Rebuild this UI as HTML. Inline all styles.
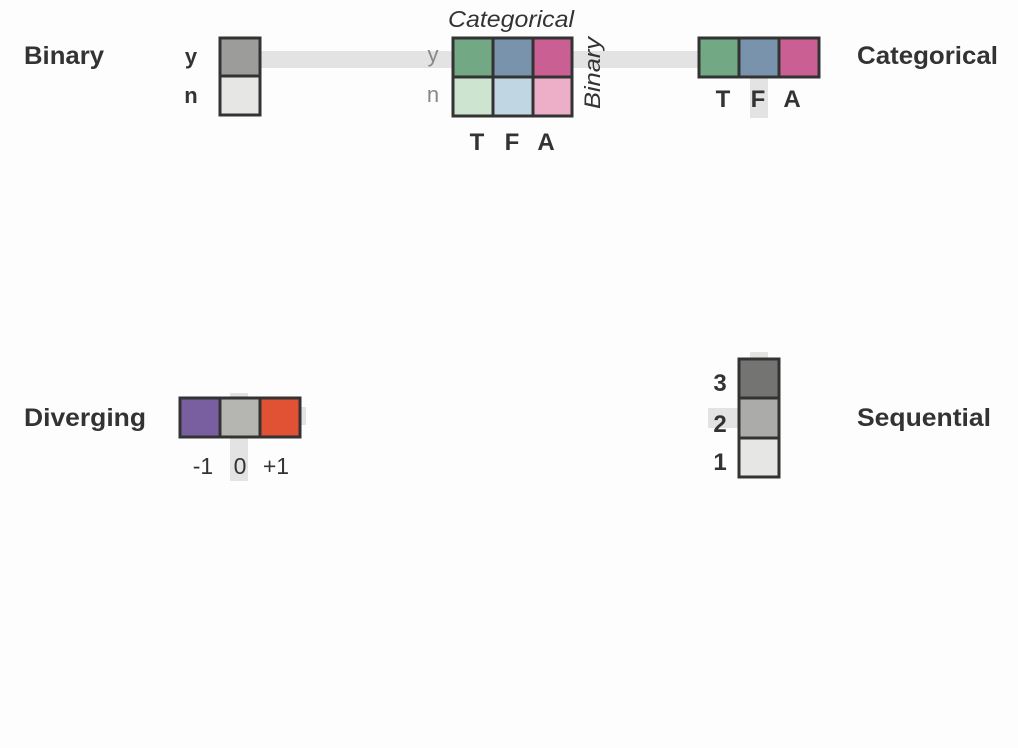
<!DOCTYPE html>
<html><head><meta charset="utf-8"><style>
html,body{margin:0;padding:0;background:#fdfdfd;}
svg{display:block;font-family:"Liberation Sans","DejaVu Sans",sans-serif;}
</style></head><body>
<svg width="1018" height="748" viewBox="0 0 1018 748" xmlns="http://www.w3.org/2000/svg">
<rect width="1018" height="748" fill="#fdfdfd"/>
<rect x="258" y="51" width="196" height="17" fill="#e3e3e3"/>
<rect x="571" y="51" width="129" height="17" fill="#e3e3e3"/>
<rect x="750" y="76" width="18" height="42" fill="#e3e3e3"/>
<rect x="230" y="393" width="18" height="88" fill="#e3e3e3"/>
<rect x="298" y="407" width="8" height="18" fill="#e3e3e3"/>
<rect x="708" y="408" width="32" height="20" fill="#e3e3e3"/>
<rect x="750" y="352" width="18" height="8" fill="#e3e3e3"/>

<g font-weight="bold" font-size="25" fill="#333">
<text x="24" y="64" textLength="80" lengthAdjust="spacingAndGlyphs">Binary</text>
<text x="857" y="64" textLength="141" lengthAdjust="spacingAndGlyphs">Categorical</text>
<text x="24" y="426" textLength="122" lengthAdjust="spacingAndGlyphs">Diverging</text>
<text x="857" y="426" textLength="134" lengthAdjust="spacingAndGlyphs">Sequential</text>
</g>

<g stroke="#333" stroke-width="3">
<rect x="220" y="38" width="40" height="38" fill="#9c9c9a"/>
<rect x="220" y="76" width="40" height="39" fill="#e6e6e4"/>
<rect x="453" y="38" width="40" height="39" fill="#72a883"/>
<rect x="493" y="38" width="40" height="39" fill="#7a93ad"/>
<rect x="533" y="38" width="39" height="39" fill="#c95f93"/>
<rect x="453" y="77" width="40" height="39" fill="#cde4d0"/>
<rect x="493" y="77" width="40" height="39" fill="#c0d6e2"/>
<rect x="533" y="77" width="39" height="39" fill="#edaec8"/>
<rect x="699" y="38" width="40" height="39" fill="#72a883"/>
<rect x="739" y="38" width="40" height="39" fill="#7a93ad"/>
<rect x="779" y="38" width="40" height="39" fill="#c95f93"/>
<rect x="180" y="398" width="40" height="39" fill="#7a5fa0"/>
<rect x="220" y="398" width="40" height="39" fill="#b5b5b2"/>
<rect x="260" y="398" width="40" height="39" fill="#e05233"/>
<rect x="739" y="359" width="40" height="39" fill="#747473"/>
<rect x="739" y="398" width="40" height="40" fill="#ababaa"/>
<rect x="739" y="438" width="40" height="39" fill="#e6e6e4"/>
</g>

<g font-size="22" fill="#333" text-anchor="middle">
<text x="191" y="64" font-weight="bold">y</text>
<text x="191" y="103" font-weight="bold">n</text>
<text x="433" y="62" fill="#888">y</text>
<text x="433" y="102" fill="#888">n</text>
<g font-weight="bold" font-size="24">
<text x="477" y="150">T</text>
<text x="512" y="150">F</text>
<text x="546" y="150">A</text>
<text x="723" y="107">T</text>
<text x="758" y="107">F</text>
<text x="792" y="107">A</text>
<text x="720" y="391">3</text>
<text x="720" y="432">2</text>
<text x="720" y="470">1</text>
</g>
<text x="511" y="27" font-style="italic" font-size="23" textLength="126" lengthAdjust="spacingAndGlyphs">Categorical</text>
<text x="0" y="0" font-style="italic" font-size="22" transform="translate(600,73) rotate(-90)" textLength="72" lengthAdjust="spacingAndGlyphs">Binary</text>
<text x="203" y="474" font-size="23">-1</text>
<text x="240" y="474" font-size="23">0</text>
<text x="276" y="474" font-size="23">+1</text>
</g>
</svg>
</body></html>
